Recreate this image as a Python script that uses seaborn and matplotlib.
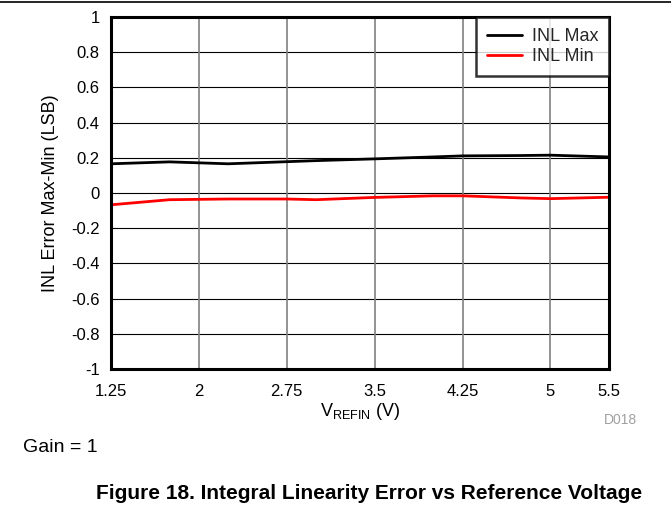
import pandas as pd
import numpy as np
import seaborn as sns
import matplotlib.pyplot as plt
from matplotlib.lines import Line2D

# Values
vref = [1.25, 1.75, 2.25, 2.75, 3.0, 3.5, 4.0, 4.25, 4.75, 5.0, 5.5]
inl_max = [0.166, 0.177, 0.166, 0.178, 0.184, 0.194, 0.205, 0.211, 0.213, 0.215, 0.205]
inl_min = [-0.067, -0.038, -0.034, -0.034, -0.038, -0.025, -0.016, -0.016, -0.028, -0.032, -0.024]
x_ticks = [1.25, 2, 2.75, 3.5, 4.25, 5, 5.5]
x_tick_labels = ["1.25", "2", "2.75", "3.5", "4.25", "5", "5.5"]
y_ticks = [-1, -0.8, -0.6, -0.4, -0.2, 0, 0.2, 0.4, 0.6, 0.8, 1]
y_tick_labels = ["-1", "-0.8", "-0.6", "-0.4", "-0.2", "0", "0.2", "0.4", "0.6", "0.8", "1"]

df = pd.DataFrame({
    "vref": vref * 2,
    "inl": inl_max + inl_min,
    "series": ["INL Max"] * len(vref) + ["INL Min"] * len(vref),
})

sns.set_theme(style="white")
plt.rcParams["font.family"] = ["Liberation Sans", "DejaVu Sans"]

fig = plt.figure(figsize=(6.71, 5.08), dpi=100)
ax = fig.add_axes([0.1654, 0.2736, 0.7422, 0.6929])

sns.lineplot(data=df, x="vref", y="inl", hue="series",
             palette={"INL Max": "black", "INL Min": "#ff0000"},
             linewidth=2, ax=ax)

ax.set_xlim(1.25, 5.5)
ax.set_ylim(-1, 1)
ax.set_xticks(x_ticks)
ax.set_xticklabels(x_tick_labels)
ax.set_yticks(y_ticks)
ax.set_yticklabels(y_tick_labels)
ax.tick_params(length=0, labelsize=12, colors="black")
ax.tick_params(axis="x", pad=11)
ax.tick_params(axis="y", pad=8)

# grid: horizontal thin black, vertical grey
for y in y_ticks[1:-1]:
    ax.axhline(y, color="black", lw=0.8, zorder=0)
for x in x_ticks[1:-1]:
    ax.axvline(x, color="#808080", lw=1.2, zorder=0)

for s in ax.spines.values():
    s.set_color("black")
    s.set_linewidth(2.2)

ax.set_xlabel(r"$\mathregular{V_{REFIN}}$ (V)", fontsize=13, color="black")
ax.set_ylabel("INL Error Max-Min (LSB)", fontsize=13, color="black")
ax.xaxis.set_label_coords(0.5, -0.092)
ax.yaxis.set_label_coords(-0.105, 0.5)

leg = ax.legend(loc="upper right", fontsize=13, frameon=True, fancybox=False,
                borderaxespad=0.0, handlelength=1.95, handletextpad=0.55,
                labelspacing=0.2, borderpad=0.6)
leg.get_frame().set_edgecolor("black")
leg.get_frame().set_linewidth(1.8)
for line in leg.get_lines():
    line.set_linewidth(2)

fig.text(0.924, 0.173, "D018", fontsize=10, color="#a0a0a0", ha="center", va="center")
fig.text(0.034, 0.110, "Gain = 1", fontsize=14, color="black", va="baseline")
fig.text(0.55, 0.0177, "Figure 18. Integral Linearity Error vs Reference Voltage",
         fontsize=15, fontweight="bold", ha="center", va="baseline", color="black")
fig.add_artist(Line2D([0, 1], [0.996, 0.996], color="black", lw=1.2))

fig.savefig("out.png", dpi=100)
plt.close(fig)
